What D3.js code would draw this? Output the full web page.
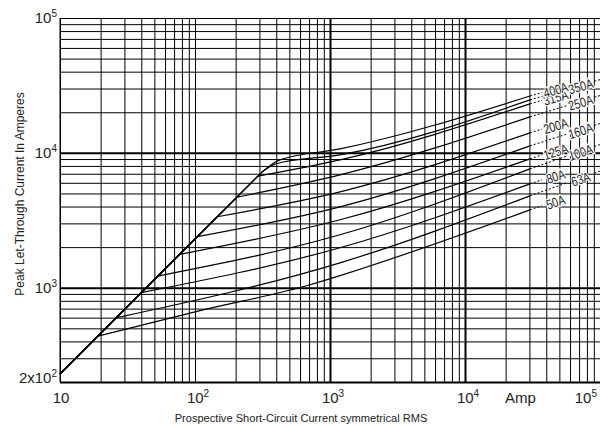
<!DOCTYPE html>
<html><head><meta charset="utf-8">
<script src="https://cdn.jsdelivr.net/npm/d3@7"></script>
<style>body{margin:0;background:#fff}svg{display:block}</style>
</head><body>
<svg id="chart" width="600" height="427"></svg>
<script>
// ---- data (prospective current Ip [A], peak let-through I [A]) ----
const ratings = ["50A","63A","80A","100A","125A","160A","200A","250A","315A","350A","400A"];
// first point: start of common diagonal, second point: knee where the curve leaves it
const curve50A  = [[10,230],[19,437],[109,676],[711,1052],[1186,1230],[30300,3780]];
const curve63A  = [[10,230],[26,598],[1186,1530],[30300,4800]];
const curve80A  = [[10,230],[40,920],[1186,1980],[30300,5890]];
const curve100A = [[10,230],[53,1220],[1186,2470],[30300,7610]];
const curve125A = [[10,230],[77,1770],[1186,3190],[30300,9030]];
const curve160A = [[10,230],[104,2390],[1186,3980],[30300,11270]];
const curve200A = [[10,230],[146,3360],[1186,5140],[30300,14070]];
const curve250A = [[10,230],[205,4700],[1186,6870],[30300,18490]];
const curve315A = [[10,230],[292,6720],[1186,8870],[30300,23070]];
const curve350A = [[10,230],[313,7200],[400,8300],[1186,9660],[30300,24700]];
const curve400A = [[10,230],[313,7200],[426,8870],[1186,10700],[30300,26400]];
const curves = [curve50A,curve63A,curve80A,curve100A,curve125A,curve160A,curve200A,curve250A,curve315A,curve350A,curve400A];
// dotted extrapolation value at Ip = 1e5
const extrapolated = [5720,7320,8800,11520,13260,16500,20400,26600,32800,34900,37000];
const labelColumn = ["left","right","left","right","left","right","left","right","left","right","left"];

const xGridValues = [];
for (let e = 1; e <= 4; e++) for (let k = 1; k <= 9; k++) xGridValues.push(k * Math.pow(10, e));
xGridValues.push(1e5);
const yGridValues = [];
for (let k = 2; k <= 9; k++) yGridValues.push(k * 100);
for (let e = 3; e <= 4; e++) for (let k = 1; k <= 9; k++) yGridValues.push(k * Math.pow(10, e));
yGridValues.push(1e5);

const xTickLabels = [{v:10, base:"10", sup:""},{v:100, base:"10", sup:"2"},{v:1000, base:"10", sup:"3"},{v:1e4, base:"10", sup:"4"},{v:1e5, base:"10", sup:"5"}];
const yTickLabels = [{v:200, base:"2x10", sup:"2"},{v:1000, base:"10", sup:"3"},{v:1e4, base:"10", sup:"4"},{v:1e5, base:"10", sup:"5"}];
const xTitle = "Prospective Short-Circuit Current symmetrical RMS";
const yTitle = "Peak Let-Through Current In Amperes";
const unitLabel = "Amp";

// ---- layout ----
const L = 60, R = 600, T = 18, B = 382;
const svg = d3.select("#chart");
const font = "'Liberation Sans', Arial, Helvetica, sans-serif";
const x = d3.scaleLog().domain([10, 1e5]).range([L, R]);
const y = d3.scaleLog().domain([200, 1e5]).range([B, T]);

// grid via axes
const gx = svg.append("g").attr("transform", `translate(0,${B})`)
  .call(d3.axisBottom(x).tickValues(xGridValues).tickSize(-(B - T)).tickFormat(""));
gx.select(".domain").remove();
gx.selectAll("line").attr("stroke", "#000")
  .attr("stroke-width", d => (d === 1000 || d === 1e4) ? 2 : 1);

const gy = svg.append("g").attr("transform", `translate(${L},0)`)
  .call(d3.axisLeft(y).tickValues(yGridValues).tickSize(-(R - L)).tickFormat(""));
gy.select(".domain").remove();
gy.selectAll("line").attr("stroke", "#000")
  .attr("stroke-width", d => (d === 1000 || d === 1e4) ? 2 : (d === 200 ? 2.2 : 1));

svg.append("line").attr("x1", L).attr("x2", L).attr("y1", T).attr("y2", B).attr("stroke", "#000");

// curves: straight common diagonal up to the knee, smooth afterwards
const lineLin = d3.line().x(d => x(d[0])).y(d => y(d[1]));
const lineSmooth = d3.line().x(d => x(d[0])).y(d => y(d[1])).curve(d3.curveMonotoneX);
const gc = svg.append("g").attr("fill", "none").attr("stroke", "#000")
  .attr("stroke-width", 1.2).attr("stroke-linejoin", "round");
curves.forEach(c => {
  gc.append("path").attr("d", lineLin(c.slice(0, 2)));
  gc.append("path").attr("d", lineSmooth(c.slice(1)));
});

// extrapolation + labels
const leftLabelIp = 47000, rightLabelIp = 72000, halfW = 1.26;
function along(c, i, ip) {
  const p = c[c.length - 1];
  const t = Math.log(ip / p[0]) / Math.log(1e5 / p[0]);
  return [ip, Math.exp(Math.log(p[1]) + t * Math.log(extrapolated[i] / p[1]))];
}
const ext = svg.append("g");
const lab = svg.append("g");
curves.forEach((c, i) => {
  const end = c[c.length - 1];
  const lip = labelColumn[i] === "left" ? leftLabelIp : rightLabelIp;
  const segs = [[end, along(c, i, lip / halfW)]];
  if (labelColumn[i] === "right") segs.push([along(c, i, lip * halfW), along(c, i, 1e5)]);
  segs.forEach(s => ext.append("path").attr("d", lineLin(s)).attr("fill", "none")
    .attr("stroke", "#000").attr("stroke-width", 1).attr("stroke-dasharray", "2,2"));
  const p = along(c, i, lip);
  const q = along(c, i, 1e5);
  const ang = Math.atan2(y(q[1]) - y(end[1]), x(q[0]) - x(end[0])) * 180 / Math.PI;
  const n = ratings[i].length;
  lab.append("text")
    .attr("transform", `translate(${x(p[0])},${y(p[1]) + 1.5}) rotate(${ang})`)
    .attr("text-anchor", "middle").attr("dominant-baseline", "central")
    .attr("font-family", font)
    .attr("font-size", 13.5).attr("fill", "#222")
    .attr("stroke", "#fff").attr("stroke-width", 2.5).attr("paint-order", "stroke")
    .attr("textLength", n === 4 ? 25 : 19).attr("lengthAdjust", "spacingAndGlyphs")
    .text(ratings[i]);
});

// tick labels
function supText(sel, d) {
  sel.append("tspan").text(d.base);
  if (d.sup) sel.append("tspan").attr("font-size", 10).attr("dy", -6).text(d.sup);
}
xTickLabels.forEach(d => {
  const t = svg.append("text").attr("font-family", font).attr("font-size", 15).attr("fill", "#222")
    .attr("y", 403);
  if (d.v === 1e5) t.attr("x", 597).attr("text-anchor", "end");
  else t.attr("x", x(d.v) + (d.sup ? 3 : 1)).attr("text-anchor", "middle");
  supText(t, d);
});
svg.append("text").attr("font-family", font).attr("font-size", 15).attr("fill", "#222")
  .attr("x", (x(1e4) + x(1e5)) / 2 - 12).attr("y", 403).attr("text-anchor", "middle").text(unitLabel);
yTickLabels.forEach(d => {
  const t = svg.append("text").attr("font-family", font).attr("font-size", 15).attr("fill", "#222")
    .attr("x", 57).attr("text-anchor", "end")
    .attr("y", d.v === 200 ? y(d.v) + 1 : y(d.v) + 5);
  supText(t, d);
});

// axis titles
svg.append("text").attr("font-family", font).attr("font-size", 11.1).attr("fill", "#222")
  .attr("x", 301).attr("y", 422).attr("text-anchor", "middle").text(xTitle);
svg.append("text").attr("font-family", font).attr("font-size", 12).attr("fill", "#222")
  .attr("transform", "translate(24,194) rotate(-90)").attr("text-anchor", "middle").text(yTitle);
</script>
</body></html>
